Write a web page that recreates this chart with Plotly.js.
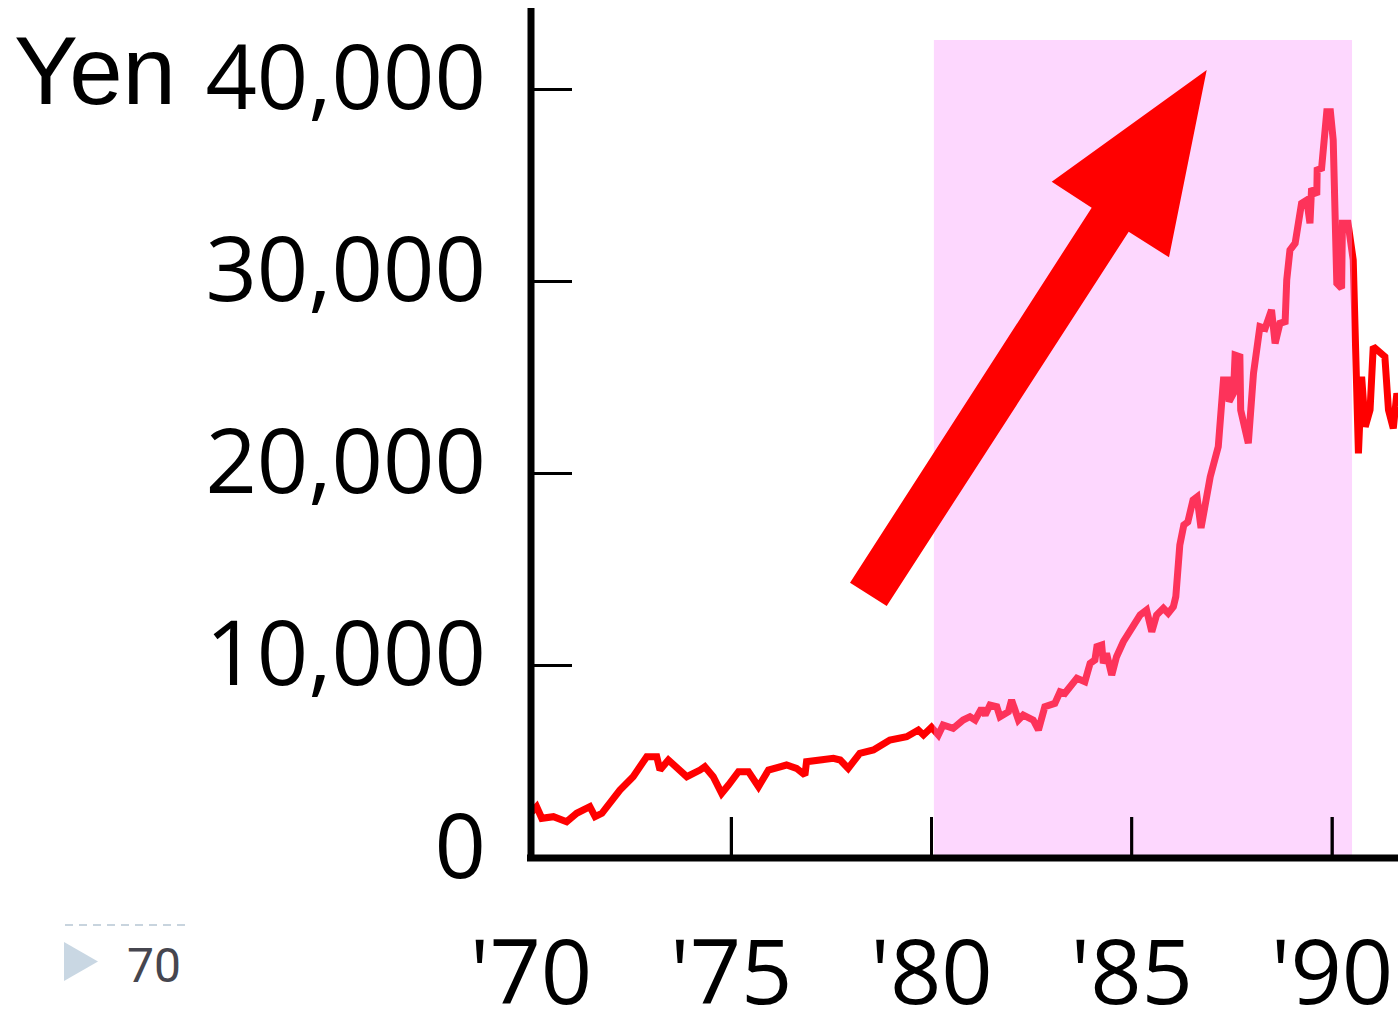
<!DOCTYPE html>
<html>
<head>
<meta charset="utf-8">
<script src="https://cdn.plot.ly/plotly-3.0.1.min.js"></script>
<style>
  html, body { margin: 0; padding: 0; background: #ffffff; }
  #chart { width: 1398px; height: 1012px; }
</style>
</head>
<body>
<div id="chart"></div>
<script>
// ---- data ----
const years = [
  1970.02, 1970.14, 1970.27, 1970.56, 1970.89, 1971.14, 1971.47, 1971.60, 1971.77, 1972.22,
  1972.55, 1972.89, 1973.14, 1973.22, 1973.43, 1973.64, 1973.89, 1974.22, 1974.34, 1974.55,
  1974.76, 1974.93, 1975.18, 1975.43, 1975.68, 1975.93, 1976.38, 1976.63, 1976.84, 1976.88,
  1977.22, 1977.55, 1977.72, 1977.92, 1978.21, 1978.55, 1978.96, 1979.38, 1979.67, 1979.80,
  1980.00, 1980.17, 1980.29, 1980.54, 1980.79, 1980.96, 1981.09, 1981.25, 1981.34, 1981.46,
  1981.63, 1981.71, 1981.92, 1982.00, 1982.17, 1982.29, 1982.54, 1982.67, 1982.83, 1983.08,
  1983.21, 1983.33, 1983.63, 1983.83, 1983.96, 1984.08, 1984.13, 1984.25, 1984.29, 1984.37,
  1984.50, 1984.62, 1984.79, 1985.04, 1985.21, 1985.37, 1985.50, 1985.62, 1985.79, 1985.91,
  1986.04, 1986.10, 1986.15, 1986.20, 1986.30, 1986.40, 1986.53, 1986.63, 1986.73, 1986.83,
  1986.96, 1987.16, 1987.29, 1987.41, 1987.43, 1987.54, 1987.58, 1987.70, 1987.72, 1987.91,
  1988.04, 1988.20, 1988.33, 1988.49, 1988.58, 1988.70, 1988.83, 1988.87, 1988.95, 1989.08,
  1989.24, 1989.37, 1989.45, 1989.49, 1989.62, 1989.63, 1989.74, 1989.87, 1989.96, 1990.03,
  1990.12, 1990.24, 1990.26, 1990.40, 1990.53, 1990.66, 1990.74, 1990.83, 1990.95, 1991.03,
  1991.32, 1991.41, 1991.53, 1991.62, 1991.70
];
const nikkei = [
  2408, 2668, 2065, 2150, 1890, 2325, 2670, 2150, 2325, 3537,
  4230, 5270, 5270, 4577, 5098, 4665, 4230, 4577, 4750, 4230,
  3365, 3797, 4490, 4490, 3710, 4577, 4837, 4665, 4317, 5009,
  5098, 5185, 5098, 4665, 5446, 5618, 6138, 6310, 6658, 6398,
  6800, 6398, 6918, 6745, 7178, 7350, 7178, 7786, 7438, 7958,
  7870, 7350, 7610, 8218, 7178, 7438, 7178, 6658, 7870, 8045,
  8650, 8567, 9347, 9170, 10127, 10299, 10991, 11080, 10127, 10648,
  9519, 10471, 11251, 12031, 12640, 12900, 11771, 12640, 12988, 12728,
  13072, 13592, 15300, 16281, 17321, 17477, 18622, 18778, 17165, 18362,
  19834, 21395, 24863, 24863, 23735, 24170, 26164, 26076, 23303, 21571,
  25212, 27637, 27551, 28505, 26772, 27812, 27897, 30065, 31625, 31976,
  34055, 34226, 33013, 34834, 34486, 35787, 35874, 38819, 38819, 37347,
  29894, 29634, 33013, 33013, 31105, 21051, 25035, 22435, 23303, 26596,
  26076, 23303, 22351, 24170, 23500
];
const xTickVals = [1970, 1975, 1980, 1985, 1990];
const xTickText = ["'70", "'75", "'80", "'85", "'90"];
const yTickVals = [0, 10000, 20000, 30000, 40000];
const yTickText = ["0", "10,000", "20,000", "30,000", "40,000"];
const bubbleStart = 1980.06;
const bubbleEnd = 1990.5;
const bubbleTop = 42548;
const yLabel = "Yen";
const slideNumber = "70";

// ---- layout helpers (pixel -> paper) ----
const W = 1398, H = 1012;
const plotL = 531, plotR = 1398, plotT = 8, plotB = 858;
const px = x => (x - plotL) / (plotR - plotL);
const py = y => (plotB - y) / (plotB - plotT);
function pathFromPixels(pts) {
  return 'M ' + pts.map(p => px(p[0]).toFixed(5) + ',' + py(p[1]).toFixed(5)).join(' L ') + ' Z';
}

const arrowPts = [
  [1206.7, 70], [1169, 257.3], [1128.7, 231.7], [886.7, 606],
  [850, 582.7], [1091.7, 207.7], [1051.7, 181.7]
];
const triPts = [[64, 942], [98, 961.5], [64, 981]];

const trace = {
  x: years, y: nikkei, type: 'scatter', mode: 'lines',
  line: { color: '#ff0000', width: 7 },
  hoverinfo: 'skip', showlegend: false
};

const tickFont = { family: 'Open Sans', size: 90, color: '#000000' };

const shapes = [
  { type: 'rect', xref: 'x', yref: 'y', x0: bubbleStart, x1: bubbleEnd, y0: 0, y1: bubbleTop,
    fillcolor: 'rgb(249,143,252)', opacity: 0.357, line: { width: 0 }, layer: 'above' },
  { type: 'path', xref: 'paper', yref: 'paper', path: pathFromPixels(arrowPts),
    fillcolor: '#ff0000', line: { width: 0 }, layer: 'above' }
];
// x ticks redrawn on top of the shaded band so they stay black
xTickVals.forEach(v => shapes.push({
  type: 'line', xref: 'x', yref: 'paper', x0: v, x1: v, y0: 0, y1: 41 / (plotB - plotT),
  line: { color: '#000000', width: 3 }, layer: 'above'
}));
shapes.push(
  { type: 'line', xref: 'paper', yref: 'paper', x0: 0, x1: 0, y0: py(861), y1: 1,
    line: { color: '#000000', width: 7 }, layer: 'above' },
  { type: 'line', xref: 'paper', yref: 'paper', x0: px(527), x1: 1, y0: 0, y1: 0,
    line: { color: '#000000', width: 7 }, layer: 'above' },
  { type: 'line', xref: 'paper', yref: 'paper', x0: px(65), x1: px(186), y0: py(925), y1: py(925),
    line: { color: '#c8d4de', width: 2, dash: '8px,6px' }, layer: 'above' },
  { type: 'path', xref: 'paper', yref: 'paper', path: pathFromPixels(triPts),
    fillcolor: '#c9d7e3', line: { width: 0 }, layer: 'above' }
);

const layout = {
  width: W, height: H,
  margin: { l: plotL, r: W - plotR, t: plotT, b: H - plotB, pad: 0 },
  paper_bgcolor: '#ffffff', plot_bgcolor: '#ffffff',
  showlegend: false,
  xaxis: {
    range: [1970, 1970 + (plotR - plotL) / 40.05],
    tickmode: 'array', tickvals: xTickVals, ticktext: xTickText,
    ticks: 'inside', ticklen: 41, tickwidth: 3, tickcolor: '#000000',
    showgrid: false, zeroline: false, showline: false,
    tickfont: tickFont, ticklabelstandoff: 55
  },
  yaxis: {
    range: [0, (plotB - plotT) / 0.019225],
    tickmode: 'array', tickvals: yTickVals, ticktext: yTickText,
    ticks: 'inside', ticklen: 41, tickwidth: 3, tickcolor: '#000000',
    showgrid: false, zeroline: false, showline: false,
    tickfont: tickFont, ticklabelstandoff: 44, ticklabelshift: -12
  },
  shapes: shapes,
  annotations: [
    { text: yLabel, xref: 'paper', yref: 'paper', x: px(12), y: py(70),
      xanchor: 'left', yanchor: 'middle', showarrow: false,
      font: { family: 'Liberation Sans', size: 96, color: '#000000' } },
    { text: slideNumber, xref: 'paper', yref: 'paper', x: px(125), y: py(966),
      xanchor: 'left', yanchor: 'middle', showarrow: false,
      font: { family: 'Roboto', size: 48, color: '#46464f' } }
  ]
};

Plotly.newPlot('chart', [trace], layout, { displayModeBar: false, staticPlot: true });
</script>
</body>
</html>
